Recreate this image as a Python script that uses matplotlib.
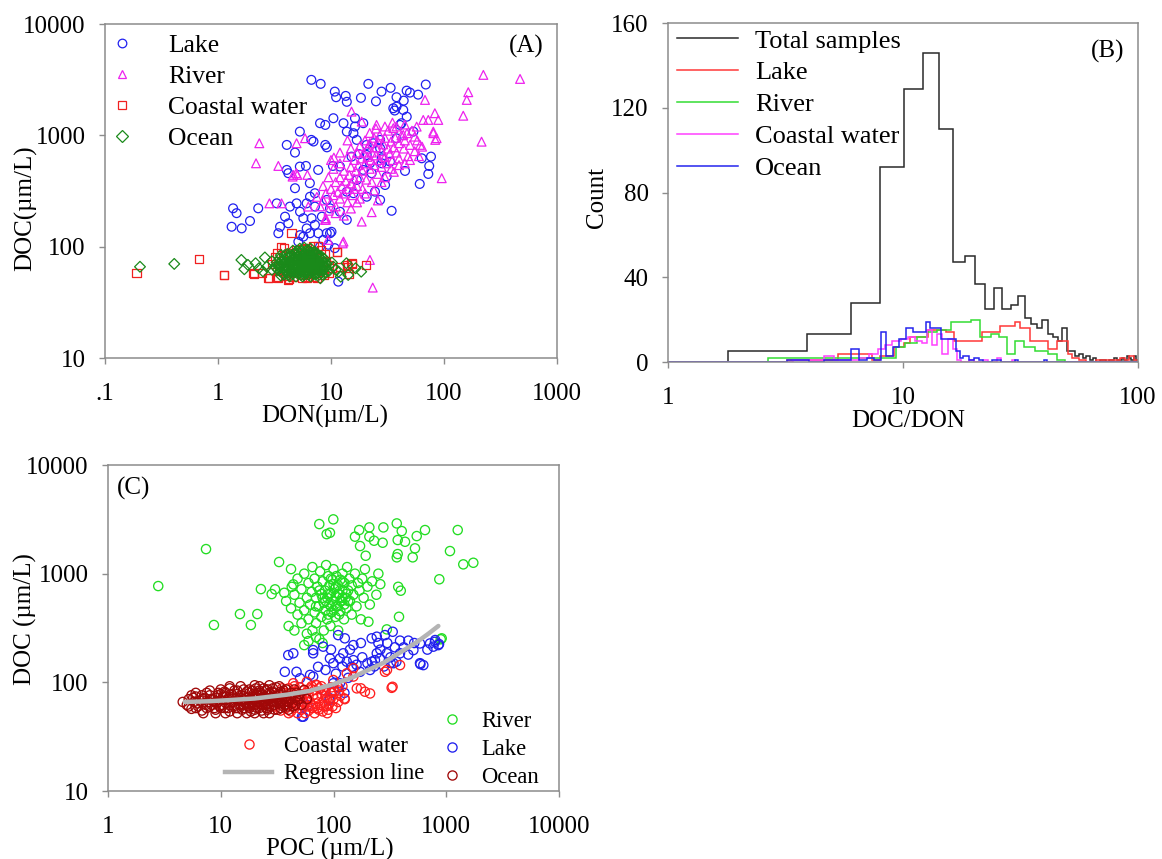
import numpy as np
import matplotlib
matplotlib.use("Agg")
import matplotlib.pyplot as plt
from matplotlib.lines import Line2D

plt.rcParams['font.family'] = ['Liberation Serif', 'DejaVu Serif']

# ---------------- Panel A: DOC vs DON ----------------
lake_a = [(6.7,3150),(8.1,2900),(21.4,2900),(28,2470),(33.7,2670),(46.7,2520),(59,2320),(69,2860),(50,2420),
          (10.8,2470),(11.1,2200),(13.5,2260),(13.8,2000),(18.4,2170),(25,2020),(38,2200),(44,2050),
          (35.6,1750),(38,1810),(36.6,1670),(43.6,1690),(42,1285),(46.8,1470),(53.6,1080),(38,940),(40.8,1240),
          (8.0,1285),(8.9,1240),(10.5,1425),(12.9,1285),(16.3,1425),(16.3,1200),(19.3,1285),(13.8,1080),(15.8,1045),
          (5.3,1080),(6.7,910),(7.0,880),(8.9,820),(9.2,780),(4.06,820),(4.8,700),(4.19,457),(6.0,531),(4.06,489),
          (7.7,489),(10.4,531),(12.0,524),(15.2,644),(17.8,677),(20.7,666),(22.1,561),(28.1,561),(33.3,580),
          (45.2,479),(63.5,622),(74,531),(76.7,644),(61,366),(72.6,450),(34.4,210),(27.2,263),
          (1.36,221),(1.46,200),(1.32,151),(1.62,146),(1.92,170),(2.27,221),(3.31,245),(4.33,229),(3.92,186),
          (3.54,151),(3.42,132),(4.19,162),(4.96,245),(5.32,206),(5.69,180),(6.09,245),(6.52,281),(7.21,229),
          (6.74,180),(7.21,157),(6.09,146),(5.32,127),(5.14,111),(5.69,123),(6.52,132),(7.72,132),(9.17,132),
          (10.1,136),(8.55,115),(9.47,104),(10.8,97),(8.0,100),(11.6,48.5),
          (16.9,910),(20.7,820),(23.7,849),(27.2,766),(28.1,622),(19.3,489),(22.9,457),(16.9,397),(13.8,312),
          (15.8,302),(20.7,281),(24.5,312),(30.1,358),(31.1,426),(27.2,910),(12.0,206),(13.8,174),(9.8,132),
          (5.3,524),(6.5,372),(7.2,302),(9.17,263),(9.8,221),(8.3,186),(4.8,335)]

river_a = [(223,3490),(471,3210),(164,2440),(159,2080),(148,1500),(215,877),(95.5,412),(83,1580),(89,1375),
           (72.6,1375),(65.5,1375),(67.9,2080),(80.4,1080),(86,942),(57.3,1197),(61.4,820),(2.32,849),(2.17,561),
           (3.42,531),(4.96,849),(5.89,942),(2.85,245),(4.65,441),(5.03,441),(6.3,229),(8.85,174),(12.9,111),
           (18.7,168),(22.9,204),(22.1,76),(23.4,42.9),(10.6,631),(15.2,1633),(18.7,1328),(25.3,1240),(35.6,1160),
           (43.6,1009),(47,1045),(55,973),(64,791),(80.5,1045),(83.6,910),(3.65,245),(4.57,426),(4.93,457),
           (6.18,441),(9.0,174),(9.4,115),(12.7,107),
           (8.0,230),(8.5,260),(9.0,300),(9.5,210),(10,250),(10,330),(10.5,290),(11,380),(11,230),(11.5,310),
           (12,270),(12,420),(12.5,350),(13,300),(13,480),(13.5,390),(14,250),(14,330),(14.5,440),(15,520),
           (15,370),(15.5,290),(16,410),(16,600),(16.5,480),(17,350),(17,700),(17.5,540),(18,420),(18,800),
           (18.5,620),(19,480),(19,330),(19.5,700),(20,560),(20,900),(20.5,400),(21,640),(21,760),(22,500),
           (22,850),(22.5,600),(23,700),(23,380),(24,950),(24,540),(25,660),(25,780),(26,450),(26,880),
           (27,600),(27,1000),(28,720),(28,520),(29,830),(30,640),(30,950),(31,560),(32,760),(32,1100),
           (33,680),(34,880),(35,600),(36,780),(37,950),(38,700),(40,850),(40,620),(42,1000),(44,760),
           (45,900),(48,650),(50,820),(52,1100),(55,720),(58,900),(60,650),(9,180),(11,200),(13,190),
           (15,220),(17,250),(7.5,280),(8.5,350),(9.5,420),(10.5,500),(12,560),(14,640),(15,760),(16,330),
           (18,270),(20,300),(24,320),(26,260),(30,420),(34,500),(28,380),(36,470),(40,540),(45,560),
           (50,600),(30,1200),(35,1300),(14,900),(12,700),(10,600),(25,1150),(22,1050),(38,1200),(45,1250)]

coastal_a = [(0.19,58),(0.68,77),(1.12,55.7),(2.07,57),(2.43,58),(2.84,52.7),(3.38,52),(4.25,51),(4.47,132),
             (3.87,97),(11.3,90),(15.3,70),(20.4,68.5),(14,65),(7.46,52),(14.5,57),(2.06,57.7),(1.13,55.7),
             (2.79,52),(3.3,53.7),(4.19,50.2),(6.1,52),(7.0,53.7),(9.5,57.7),(10.1,64),(12.0,66),(13.8,68.6),
             (15.2,71),(11.2,90),(3.6,99),(4.9,93),(6.1,97),(7.0,101),(7.7,101),(5.5,95),(6.5,92),(8.2,94),
             (4.3,88),(8.8,86),(3.2,80),(3.5,60),(4.0,55),(4.6,53),(5.5,52),(6.3,54),(7.5,58),(8.5,62),
             (9.0,75),(3.0,70),(3.3,88),(5.0,82),(6.8,86),(7.8,80),(9.5,68),(8.6,56),(5.8,56),(4.4,58),(3.8,64)]

ocean_a = [(0.204,66),(0.41,70),(1.61,76),(1.71,62.7),(1.84,68.6),(2.15,71),(2.6,80),(2.7,66),(10.5,66),
           (11.7,59.6),(13.7,71),(16.5,64),(18.5,59.6),(14.2,55.7),(8.05,52),(12.2,53.7),(2.3,64),(2.5,60),
           (3.0,62),(3.0,74),(9.5,60),(10.2,72),(11,62),
           (3.4,62),(3.5,70),(3.6,66),(3.7,58),(3.7,76),(3.8,63),(3.9,72),(4.0,60),(4.0,68),(4.1,80),
           (4.2,56),(4.2,64),(4.3,74),(4.4,60),(4.4,70),(4.5,84),(4.6,57),(4.6,66),(4.7,78),(4.8,62),
           (4.8,72),(4.9,88),(5.0,58),(5.0,67),(5.1,76),(5.2,62),(5.2,82),(5.3,70),(5.4,56),(5.4,65),
           (5.5,74),(5.5,90),(5.6,60),(5.7,68),(5.7,80),(5.8,63),(5.9,72),(5.9,86),(6.0,57),(6.0,66),
           (6.1,77),(6.2,61),(6.2,70),(6.3,83),(6.4,64),(6.4,92),(6.5,58),(6.5,74),(6.6,68),(6.7,80),
           (6.8,62),(6.8,88),(6.9,72),(7.0,57),(7.0,66),(7.1,78),(7.2,62),(7.3,70),(7.4,84),(7.5,65),
           (7.5,58),(7.6,75),(7.7,68),(7.8,61),(7.9,80),(8.0,72),(8.1,64),(8.2,58),(8.3,76),(8.5,68),
           (8.6,62),(8.8,72),(9.0,65),(4.3,54),(5.6,54),(6.6,54),(3.2,66),(3.3,72),(4.1,86),(5.0,92),
           (6.0,90),(7.2,90),(6.6,96),(5.3,96),(4.6,92),(5.8,98),
           (3.5,78),(3.6,55),(3.9,84),(4.1,70),(4.5,62),(4.7,68),(4.9,54),(5.1,64),(5.3,86),(5.6,72),
           (5.8,58),(6.1,84),(6.3,66),(6.5,88),(6.7,60),(7.0,82),(7.3,56),(7.6,86),(7.9,66),(8.2,82),
           (8.4,56),(8.7,78),(9.2,70),(3.6,84),(4.9,63),(6.0,62),(7.1,62),(5.4,78),(6.4,78),(7.6,71),
           (3.45,66),(3.55,60),(3.75,70),(3.85,56),(3.95,78),(4.05,64),(4.15,58),(4.25,68),(4.35,82),(4.55,72),
           (4.65,60),(4.75,86),(4.85,66),(4.95,76),(5.05,70),(5.15,58),(5.25,90),(5.35,74),(5.45,62),(5.65,84),
           (5.75,56),(5.85,76),(5.95,64),(6.15,94),(6.25,74),(6.35,56),(6.45,70),(6.55,82),(6.75,66),(6.85,76),
           (6.95,60),(7.15,70),(7.25,86),(7.45,74),(7.55,62),(7.75,82),(7.85,56),(8.05,68),(8.25,62),(8.45,72),
           (8.65,66),(8.9,58)]

a_xticks = [0.1, 1, 10, 100, 1000]
a_xticklabels = ['.1', '1', '10', '100', '1000']
log_yticks = [10, 100, 1000, 10000]
log_yticklabels = ['10', '100', '1000', '10000']

# ---------------- Panel B: DOC/DON histograms ----------------
total_edges = [1, 1.8, 3.9, 6.0, 8.0, 10.1, 12.2, 14.2, 16.3, 18.4, 20.3, 22.4, 24.4, 26.5, 28.7, 30.8, 32.9,
               35.0, 37.1, 39.2, 41.3, 43.4, 45.5, 47.6, 49.7, 51.8, 53.9, 56.0, 58.1, 60.2, 62.3, 64.4, 66.5,
               68.6, 70.7, 72.8, 74.9, 77.0, 79.1, 81.2, 83.3, 85.4, 87.5, 89.6, 91.7, 93.8, 95.9, 98.0, 100]
total_counts = [0, 5, 13, 28, 92, 129, 146, 110, 47, 50, 37, 25, 35, 25, 27, 31, 21, 18, 16, 20,
                13, 12, 10, 16, 5, 5, 3, 4, 2, 3, 1, 2, 0, 1, 1, 0, 1, 1, 2, 1, 1, 2, 1, 3, 2, 1, 3, 1]

lake_edges = [1, 3.2, 5.3, 7.4, 8.0, 9.2, 10.1, 10.7, 12.8, 15.3, 16.5, 21.6, 25.9, 29.9, 31.6, 34.6, 41.5,
              45.4, 50.6, 52.5, 56, 60, 66, 72, 78, 84, 88, 92, 96, 100]
lake_counts = [0, 1, 4, 1, 3, 7, 9, 12, 15, 14, 10, 14, 17, 19, 16, 10, 6, 10, 4, 2, 1, 0, 1, 1, 1, 2, 1, 3, 1]

river_edges = [1, 2.67, 9.3, 10.2, 11.5, 12.6, 14.0, 16.0, 19.4, 21.2, 23.6, 25.5, 27.6, 29.9, 32.7, 36.5,
               41.5, 45.4, 48.8, 52, 100]
river_counts = [0, 2, 7, 9, 12, 14, 15, 19, 20, 12, 13, 12, 4, 10, 7, 5, 4, 1, 0, 0]

coastal_edges = [1, 3.4, 4.6, 5.1, 6.5, 7.2, 7.8, 8.4, 9.0, 9.8, 10.5, 11.3, 12.0, 12.7, 13.3, 14.0, 14.7,
                 15.5, 16.3, 17.0, 17.6, 19.0, 20.0, 22.0, 23.0, 25.0, 26.0, 29.0, 30.0, 100]
coastal_counts = [0, 1, 3, 1, 2, 4, 6, 8, 10, 11, 12, 10, 9, 15, 8, 13, 4, 11, 6, 1, 0, 1, 0, 1, 0, 2, 0, 1, 0]

ocean_edges = [1, 3.2, 4.0, 4.6, 6.0, 6.5, 7.0, 7.5, 8.1, 8.5, 9.05, 9.6, 10.3, 11.0, 12.5, 13.0, 14.5, 16.8,
               17.4, 18.0, 19, 20, 21, 22, 24, 26, 30, 31, 40, 41, 47, 100]
ocean_counts = [0, 1, 0, 1, 6, 1, 2, 1, 14, 3, 7, 11, 16, 14, 19, 16, 11, 5, 2, 3, 1, 2, 1, 0, 1, 0, 1, 0, 1, 0, 0]

b_xticks = [1, 10, 100]
b_xticklabels = ['1', '10', '100']
b_yticks = [0, 40, 80, 120, 160]

# ---------------- Panel C: DOC vs POC ----------------
river_c = [(2.79,769),(7.4,1683),(8.7,337),(14.8,425),(21.1,425),(18.5,337),(22.7,721),(28.3,649),(30.3,717),
           (32.9,1280),(42,1102),(36.6,667),(42.6,757),(44,797),(74.8,2860),(99.6,3160),(87,2310),(93,2380),
           (169,2520),(208,2665),(277,2665),(364,2900),(403,2466),(648,2520),(1264,2520),(155,2190),(208,2190),
           (229,2010),(273,1926),(371,2040),(431,1966),(547,2218),(528,1710),(172,1796),(193,1462),(364,1413),
           (371,1515),(504,1413),(1079,1614),(1416,1218),(1738,1260),(868,888),(375,757),(395,697),(381,401),
           (204,361),(297,307),(911,254),(893,249),
           (38,560),(40,330),(42,480),(45,300),(45,640),(48,420),(48,900),(50,540),(52,350),(52,720),
           (55,460),(55,1000),(58,600),(58,280),(60,380),(60,820),(62,520),(64,680),(65,300),(65,1150),
           (68,440),(68,900),(70,600),(70,350),(72,760),(74,500),(75,250),(76,1050),(78,650),(78,400),
           (80,850),(82,540),(82,300),(84,700),(85,460),(86,1200),(88,600),(88,380),(90,950),(92,520),
           (92,780),(94,330),(95,660),(96,440),(98,880),(100,560),(100,1100),(102,720),(104,400),(105,620),
           (106,950),(108,500),(110,780),(110,300),(112,650),(115,880),(115,450),(118,560),(120,1000),(120,700),
           (124,380),(125,820),(128,600),(130,480),(132,1150),(135,700),(138,900),(140,560),(145,420),(145,780),
           (150,640),(155,1000),(160,500),(165,820),(170,700),(175,380),(180,900),(185,600),(190,1100),(200,760),
           (210,520),(220,850),(240,640),(250,1000),(260,800),(60,240),(80,230),(55,220),(70,260),
           (70,500),(75,700),(85,560),(90,650),(95,500),(100,800),(105,500),(110,650),(115,560),(120,600),
           (125,520),(130,650),(95,900),(105,750),(120,850),(135,560),(80,600),(90,420),(100,460),(112,420)]

lake_c = [(37,125),(47,125),(39.7,178),(44,185),(62,117),(66,185),(73,139),(93,166),(99.6,150),(114,166),
          (122,185),(131,155),(145,139),(150,160),(172,125),(211,130),(233,160),(242,185),(258,166),(297,185),
          (340,150),(389,185),(511,198),(585,150),(626,144),(718,228),(851,220),(54,60),(54,48.3),(66,113),
          (50.5,109),(81,85),(93,71),(99.6,98),(114,98),(110,272),(126,254),(150,220),(218,254),(242,263),
          (286,272),(335,292),(389,242),(461,242),(585,228),(794,236),(81,213),(66,198),(590,147),(769,213),
          (863,225),(798,245),(321,151),(361,155),(219,155),(52.5,48.3),(58.7,61.8),(92,68.7),
          (85,130),(105,120),(120,140),(135,110),(160,145),(180,170),(200,150),(230,140),(260,200),(280,140),
          (320,170),(350,210),(420,210),(460,180),(520,230),(680,200),(95,200),(140,200),(175,230),(300,230),
          (250,230),(110,90),(125,80),(100,85)]

coastal_c = [(286,125),(389,144),(161,88),(190,82),(211,79),(328,89),(126,70),(131,121),(150,113),(44,98),
             (58,101),(71,94),(99.6,105),(150,135),(175,88),(298,130),(334,91),(125,71),
             (30,60),(32,72),(34,55),(35,66),(36,80),(38,58),(38,70),(40,62),(40,88),(42,54),(42,75),(44,66),
             (45,58),(46,82),(48,70),(48,52),(50,62),(50,90),(52,56),(52,76),(54,66),(55,85),(56,52),(58,72),
             (58,60),(60,80),(60,55),(62,66),(64,92),(65,58),(66,76),(68,52),(68,85),(70,64),(72,72),(74,56),
             (75,88),(76,62),(78,78),(80,54),(82,68),(84,84),(86,60),(88,72),(90,56),(92,64),(95,80),(98,60),
             (100,70),(105,58),(110,66),(112,84),(115,75),(120,92),(25,68),(28,78),(26,58),(22,64),(20,72),(18,60),
             (35,88),(45,92),(55,64),(62,88),(66,60),(72,58),(78,92),(85,75),(88,52),(94,70),(102,82),(108,92),
             (40,52),(50,74),(57,80),(70,95),(82,60),(96,90)]

ocean_c = [(4.6,66),(5.0,62),(5.2,70),(5.5,57),(5.8,66),(6.0,74),(6.3,60),(6.5,68),(6.8,55),(7.0,64),
           (7.2,72),(7.5,58),(7.8,66),(8.0,76),(8.3,62),(8.6,70),(9.0,56),(9.2,64),(9.5,80),(9.8,60),
           (10,68),(10.5,74),(10.8,58),(11,65),(11.5,70),(12,54),(12,62),(12.5,78),(13,66),(13.5,58),
           (13.8,72),(14,84),(14.5,62),(15,68),(15.5,56),(16,75),(16.5,64),(17,82),(17.5,60),(18,70),
           (18.5,54),(19,66),(19.5,78),(20,62),(20.5,88),(21,58),(21.5,72),(22,66),(22.5,80),(23,55),
           (23.5,62),(24,74),(24.5,68),(25,84),(25.5,58),(26,64),(26.5,76),(27,70),(28,60),(28.5,82),
           (29,66),(30,56),(30.5,72),(31,90),(32,64),(33,78),(34,58),(35,68),(36,84),(37,62),(38,74),
           (40,66),(42,80),(44,60),(46,72),(48,68),(50,78),(52,62),(55,85),(58,70),(12,88),(15,92),
           (18,86),(22,92),(27,94),(10,86),(8,84),(6,80),(7,52),(9,52),(11,52),(14,52),(17,52),(20,52),
           (24,52),(27,52),(16,58),(13,74),(19,74),(23,70),(26,86),(30,80),(33,70),(35,76),(9,72),(11,80),
           (21,80),(25,72),(29,74),(40,56),(45,86),
           (5.5,76),(6,58),(7,70),(8,60),(9,66),(10,58),(11,74),(12,70),(13,60),(14,68),(15,62),(16,70),
           (17,64),(18,58),(19,62),(20,70),(21,66),(22,58),(23,76),(24,62),(26,70),(28,66),(30,62),(32,70),
           (34,64),(36,60),(38,66),(42,70),(46,62),(50,70),(7.5,80),(10,78),(14,78),(18,80),(16,86),
           (5.2,60),(5.7,72),(6.2,64),(6.8,76),(7.4,62),(8.2,70),(8.8,58),(9.4,76),(10.2,62),(10.8,82),
           (11.6,58),(12.4,66),(13.2,84),(14.2,58),(15,76),(16,62),(17,72),(18,64),(19,84),(20,56),
           (21,76),(22,84),(23,62),(24,88),(25,62),(26,56),(27,80),(28,72),(29,88),(31,66),(32,56),
           (34,82),(36,70),(38,86),(39,60),(43,64),(47,80),(12,92),(20,94),(33,92)]

regression_poc = [4.8, 8, 12.9, 20, 38.6, 60, 99.6, 150, 197, 280, 389, 550, 700, 851]
regression_doc = [66, 67, 69, 71, 77, 83, 96, 112, 128, 152, 188, 235, 282, 330]

c_xticks = [1, 10, 100, 1000, 10000]
c_xticklabels = ['1', '10', '100', '1000', '10000']

# ---------------- drawing ----------------
W, H = 1162, 859
fig = plt.figure(figsize=(W / 100, H / 100), dpi=100)
fig.patch.set_facecolor('white')
axA = fig.add_axes([105 / W, 1 - 358 / H, 452 / W, 334 / H])
axB = fig.add_axes([668 / W, 1 - 362 / H, 470 / W, 339 / H])
axC = fig.add_axes([108 / W, 1 - 791 / H, 451 / W, 326 / H])

FS = 18
SPINE = '#8c8c8c'


def style(ax):
    for s in ax.spines.values():
        s.set_color(SPINE)
        s.set_linewidth(1.1)
    ax.tick_params(which='major', direction='out', length=4, width=1, color=SPINE, labelsize=FS)
    ax.tick_params(axis='x', pad=14)
    ax.tick_params(axis='y', pad=10)
    ax.tick_params(which='minor', length=0)


def pts(data):
    arr = np.array(data, dtype=float)
    return arr[:, 0], arr[:, 1]


# Panel A
cA = {'Lake': '#2020f0', 'River': '#ee22ee', 'Coastal water': '#f02020', 'Ocean': '#1a8a1a'}
mA = {'Lake': 'o', 'River': '^', 'Coastal water': 's', 'Ocean': 'D'}
sA = {'Lake': 40, 'River': 40, 'Coastal water': 34, 'Ocean': 30}
for name, data in [('Lake', lake_a), ('River', river_a), ('Coastal water', coastal_a), ('Ocean', ocean_a)]:
    x, y = pts(data)
    axA.scatter(x, y, s=sA[name], marker=mA[name], facecolors='none', edgecolors=cA[name], linewidths=0.9)
axA.set_xscale('log')
axA.set_yscale('log')
axA.set_xlim(0.1, 1000)
axA.set_ylim(10, 10000)
axA.set_xticks(a_xticks, a_xticklabels)
axA.set_yticks(log_yticks, log_yticklabels)
axA.minorticks_off()
style(axA)
axA.set_xlabel('DON(µm/L)', fontsize=FS)
axA.set_ylabel('DOC(µm/L)', fontsize=FS)
axA.xaxis.set_label_coords(0.485, -0.141)
axA.yaxis.set_label_coords(-0.150, 0.45)
handlesA = [Line2D([], [], ls='none', marker=mA[k], mfc='none', mec=cA[k], ms=6.2, mew=0.9) for k in cA]
axA.legend(handlesA, list(cA.keys()), loc='upper left', bbox_to_anchor=(0.01, 0.97), frameon=False,
           fontsize=18.4, handlelength=1.0, handletextpad=1.3, labelspacing=0.32, borderpad=0, borderaxespad=0)
axA.text(0.971, 0.967, '(A)', transform=axA.transAxes, ha='right', va='top', fontsize=FS)

# Panel B
seriesB = [('Total samples', total_edges, total_counts, '#2a2a2a'),
           ('Lake', lake_edges, lake_counts, '#ff3838'),
           ('River', river_edges, river_counts, '#33dd33'),
           ('Coastal water', coastal_edges, coastal_counts, '#ff40ff'),
           ('Ocean', ocean_edges, ocean_counts, '#2424ee')]
handlesB = []
for name, e, c, col in seriesB:
    axB.stairs(c, e, color=col, linewidth=1.1, baseline=None)
    handlesB.append(Line2D([], [], color=col, linewidth=1.1))
axB.set_xscale('log')
axB.set_xlim(1, 100)
axB.set_ylim(0, 160)
axB.set_xticks(b_xticks, b_xticklabels)
axB.set_yticks(b_yticks, [str(v) for v in b_yticks])
axB.minorticks_off()
style(axB)
axB.set_xlabel('DOC/DON', fontsize=FS)
axB.set_ylabel('Count', fontsize=FS)
axB.xaxis.set_label_coords(0.51, -0.142)
axB.yaxis.set_label_coords(-0.128, 0.484)
axB.legend(handlesB, [s[0] for s in seriesB], loc='upper left', bbox_to_anchor=(0.019, 0.982), frameon=False,
           fontsize=19, handlelength=2.3, handletextpad=0.65, labelspacing=0.32, borderpad=0, borderaxespad=0)
axB.text(0.970, 0.950, '(B)', transform=axB.transAxes, ha='right', va='top', fontsize=FS)

# Panel C
cC = {'River': '#22dd22', 'Lake': '#2020ee', 'Coastal water': '#ff1e1e', 'Ocean': '#a00808'}
for name, data in [('River', river_c), ('Lake', lake_c), ('Coastal water', coastal_c), ('Ocean', ocean_c)]:
    x, y = pts(data)
    axC.scatter(x, y, s=44, marker='o', facecolors='none', edgecolors=cC[name], linewidths=0.95)
axC.plot(regression_poc, regression_doc, color='#b4b4b4', linewidth=3.2, solid_capstyle='round')
axC.set_xscale('log')
axC.set_yscale('log')
axC.set_xlim(1, 10000)
axC.set_ylim(10, 10000)
axC.set_xticks(c_xticks, c_xticklabels)
axC.set_yticks(log_yticks, log_yticklabels)
axC.minorticks_off()
style(axC)
axC.set_xlabel('POC (µm/L)', fontsize=FS)
axC.set_ylabel('DOC (µm/L)', fontsize=FS)
axC.xaxis.set_label_coords(0.492, -0.144)
axC.yaxis.set_label_coords(-0.157, 0.528)


def circ(col):
    return Line2D([], [], ls='none', marker='o', mfc='none', mec=col, ms=6.6, mew=0.95)


legR = axC.legend([circ(cC['River']), circ(cC['Lake']), circ(cC['Ocean'])], ['River', 'Lake', 'Ocean'],
                  loc='lower left', bbox_to_anchor=(0.737, 0.01), frameon=False, fontsize=16.3,
                  handlelength=1.0, handletextpad=0.8, labelspacing=0.3, borderpad=0, borderaxespad=0)
axC.add_artist(legR)
axC.legend([circ(cC['Coastal water']), Line2D([], [], color='#b4b4b4', linewidth=3.2)],
           ['Coastal water', 'Regression line'], loc='lower left', bbox_to_anchor=(0.259, 0.02),
           frameon=False, fontsize=16.3, handlelength=2.1, handletextpad=0.5, labelspacing=0.3,
           borderpad=0, borderaxespad=0)
axC.text(0.02, 0.963, '(C)', transform=axC.transAxes, ha='left', va='top', fontsize=FS)

fig.savefig('out.png', dpi=100, facecolor='white')
